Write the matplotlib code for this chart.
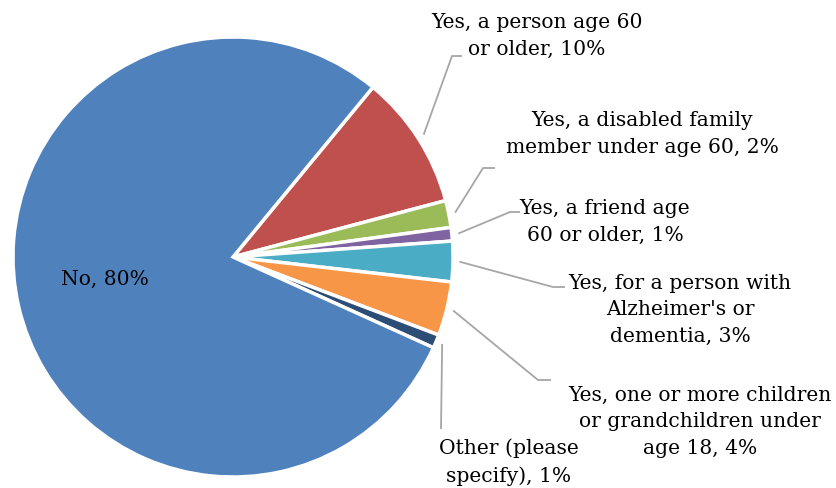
import matplotlib.pyplot as plt
import numpy as np

# answers to "do you care for someone?"
labels = ["Yes, a person age 60\nor older",
          "Yes, a disabled family\nmember under age 60",
          "Yes, a friend age\n60 or older",
          "Yes, for a person with\nAlzheimer's or\ndementia",
          "Yes, one or more children\nor grandchildren under\nage 18",
          "Other (please\nspecify)",
          "No"]
percents = [10, 2, 1, 3, 4, 1, 80]
colors = ['#C0504D', '#9BBB59', '#8064A2', '#4BACC6', '#F79646', '#2C4D75', '#4F81BD']

W, H = 837, 489
CX, CY, R = 233, 258, 220


def px(x, y):
    # pixel position (origin top-left) -> data coords centred on the pie
    return x - CX, CY - y


# text centre and elbow of the leader line for each label
text_pos = [(537, 36), (642, 134), (605, 222), (680, 310), (700, 422), (509, 462), (105, 279)]
elbow_pos = [(452, 57), (483, 169), (510, 213), (553, 288), (538, 381), (441, 430), None]
tail_pos = [(462, 57), (495, 169), (520, 213), (565, 288), (551, 381), None, None]

plt.rcParams['font.family'] = ['DejaVu Serif']

fig = plt.figure(figsize=(W / 100, H / 100), dpi=100)
ax = fig.add_axes([0, 0, 1, 1])

explode = [0.025] * 6 + [0]
wedges, _ = ax.pie(percents, colors=colors, radius=R, center=(0, 0),
                   startangle=50.5, counterclock=False, explode=explode,
                   wedgeprops=dict(edgecolor='white', linewidth=2.5))
for w in wedges:
    w.set_clip_on(False)

ax.set_xlim(-CX, W - CX)
ax.set_ylim(CY - H, CY)
ax.set_aspect('equal')
ax.axis('off')

for i, (w, lab, p) in enumerate(zip(wedges, labels, percents)):
    tx, ty = px(*text_pos[i])
    ax.text(tx, ty, f"{lab}, {p}%", ha='center', va='center', fontsize=14.6,
            linespacing=1.5, color='black')
    if elbow_pos[i] is None:
        continue
    mid = np.deg2rad((w.theta1 + w.theta2) / 2)
    off = explode[i] * R
    ax_x = (R + off + 1) * np.cos(mid)
    ax_y = (R + off + 1) * np.sin(mid)
    pts = [(ax_x, ax_y), px(*elbow_pos[i])]
    if tail_pos[i] is not None:
        pts.append(px(*tail_pos[i]))
    xs, ys = zip(*pts)
    ax.plot(xs, ys, color='#A6A6A6', linewidth=1.3, solid_capstyle='butt')

fig.savefig('out.png', dpi=100, facecolor='white')
